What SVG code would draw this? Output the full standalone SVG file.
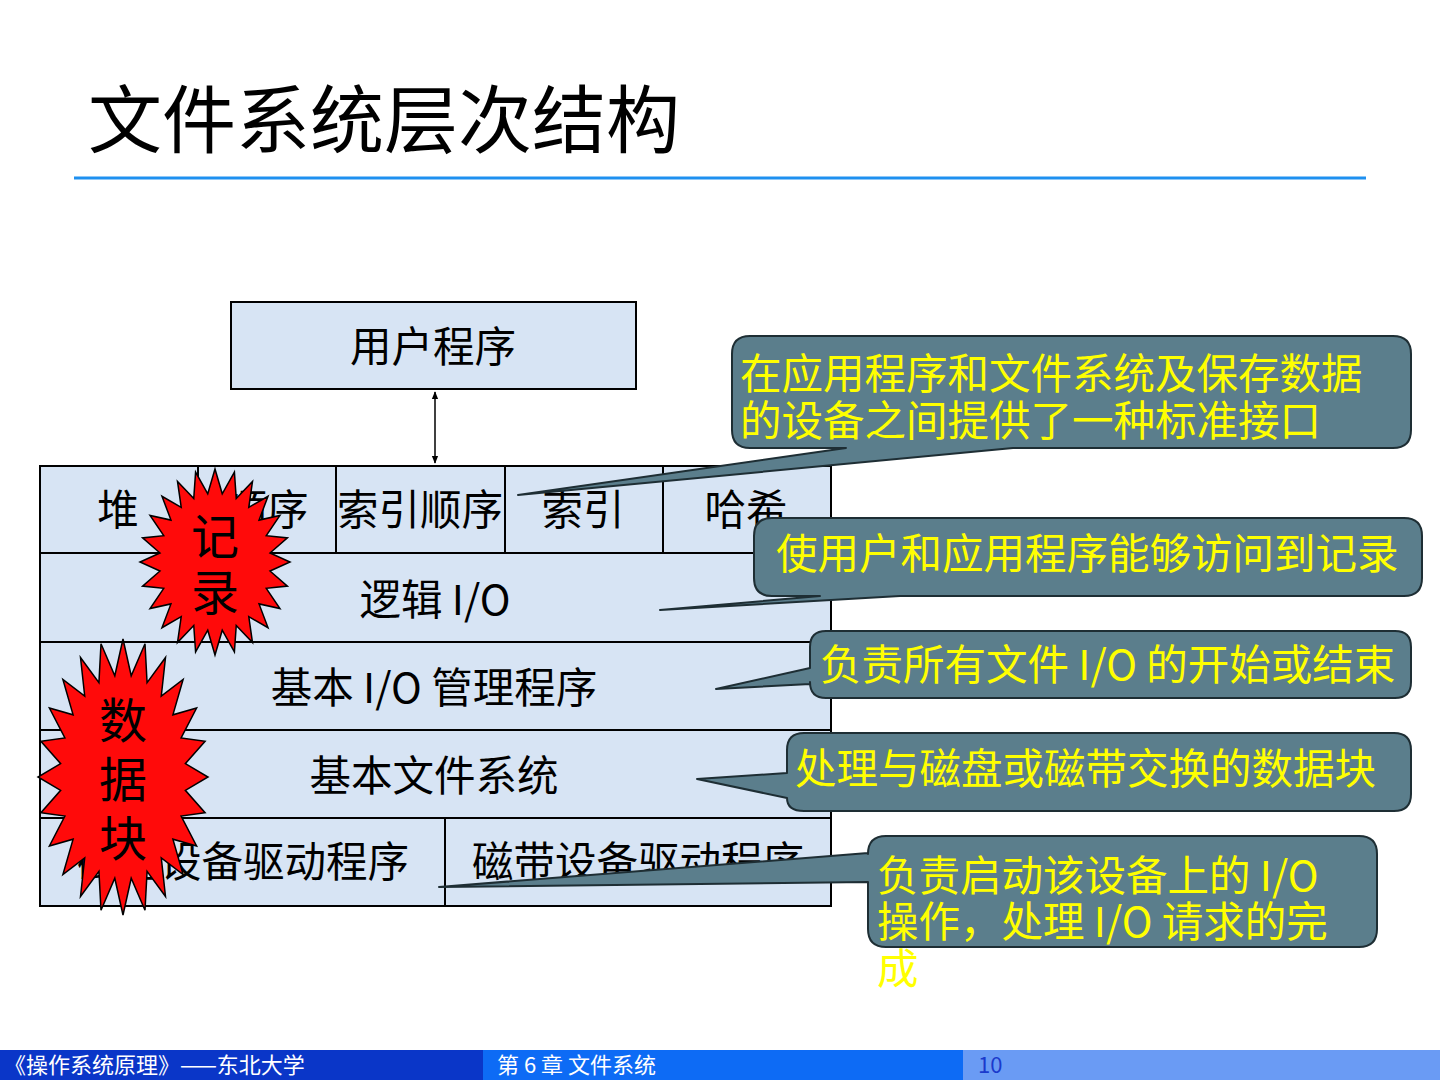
<svg xmlns="http://www.w3.org/2000/svg" width="1440" height="1080" viewBox="0 0 1440 1080">
<style>
.cjk{font-family:"Noto Sans CJK SC","Noto Sans",sans-serif;}
.cell{fill:#D7E4F4;stroke:#000;stroke-width:2;}
.ct{font-size:41.5px;fill:#000;text-anchor:middle;}
.call{fill:#5B7E8C;stroke:#1E2E34;stroke-width:2;stroke-linejoin:round;}
.cal{font-size:41.5px;fill:#FFFF00;}
.star{fill:#FF0A0A;stroke:#000;stroke-width:1.5;}
.st{font-size:48px;fill:#000;text-anchor:middle;}
.ft{font-size:22px;fill:#fff;}
</style>
<defs>
<polygon id="starshape" vector-effect="non-scaling-stroke" points="0,-1 0.0966,-0.7337 0.2588,-0.9659 0.2832,-0.6837 0.5,-0.866 0.4505,-0.5871 0.7071,-0.7071 0.5871,-0.4505 0.866,-0.5 0.6837,-0.2832 0.9659,-0.2588 0.7337,-0.0966 1,0 0.7337,0.0966 0.9659,0.2588 0.6837,0.2832 0.866,0.5 0.5871,0.4505 0.7071,0.7071 0.4505,0.5871 0.5,0.866 0.2832,0.6837 0.2588,0.9659 0.0966,0.7337 0,1 -0.0966,0.7337 -0.2588,0.9659 -0.2832,0.6837 -0.5,0.866 -0.4505,0.5871 -0.7071,0.7071 -0.5871,0.4505 -0.866,0.5 -0.6837,0.2832 -0.9659,0.2588 -0.7337,0.0966 -1,0 -0.7337,-0.0966 -0.9659,-0.2588 -0.6837,-0.2832 -0.866,-0.5 -0.5871,-0.4505 -0.7071,-0.7071 -0.4505,-0.5871 -0.5,-0.866 -0.2832,-0.6837 -0.2588,-0.9659 -0.0966,-0.7337"/>
<marker id="ah" viewBox="0 0 10 10" refX="9" refY="5" markerWidth="8" markerHeight="8" orient="auto-start-reverse" markerUnits="userSpaceOnUse">
<path d="M0,1 L10,5 L0,9 Z" fill="#000"/>
</marker>
</defs>
<rect x="0" y="0" width="1440" height="1080" fill="#fff"/>

<g id="title">
<text class="cjk" x="88" y="147" font-size="74" fill="#000">文件系统层次结构</text>
<rect x="74" y="176.5" width="1292" height="3" fill="#1E90F0"/>
</g>

<g id="user-program">
<rect class="cell" x="231" y="302" width="405" height="87"/>
<text class="cjk ct" x="433" y="362">用户程序</text>
</g>

<g id="connectors">
<line x1="435" y1="392" x2="435" y2="463" stroke="#000" stroke-width="1.5" marker-start="url(#ah)" marker-end="url(#ah)"/>
</g>

<g id="row-files">
<rect class="cell" x="40" y="466" width="158" height="87"/>
<text class="cjk ct" x="118" y="525">堆</text>
<rect class="cell" x="198" y="466" width="138" height="87"/>
<text class="cjk ct" x="267" y="525">顺序</text>
<rect class="cell" x="336" y="466" width="169" height="87"/>
<text class="cjk ct" x="420" y="525">索引顺序</text>
<rect class="cell" x="505" y="466" width="158" height="87"/>
<text class="cjk ct" x="583" y="525">索引</text>
<rect class="cell" x="663" y="466" width="168" height="87"/>
<text class="cjk ct" x="746" y="525">哈希</text>
</g>

<g id="logical-io">
<rect class="cell" x="40" y="553" width="791" height="89"/>
<text class="cjk ct" x="435" y="615">逻辑 I/O</text>
</g>

<g id="basic-io">
<rect class="cell" x="40" y="642" width="791" height="88"/>
<text class="cjk ct" x="434" y="703">基本 I/O 管理程序</text>
</g>

<g id="basic-fs">
<rect class="cell" x="40" y="730" width="791" height="88"/>
<text class="cjk ct" x="434" y="791">基本文件系统</text>
</g>

<g id="drivers">
<rect class="cell" x="40" y="818" width="405" height="88"/>
<text class="cjk ct" x="243" y="877">磁盘设备驱动程序</text>
<rect class="cell" x="445" y="818" width="386" height="88"/>
<text class="cjk ct" x="638" y="877">磁带设备驱动程序</text>
</g>

<g id="star-record">
<use href="#starshape" class="star" transform="translate(215,562) scale(75,93)"/>
<text class="cjk st" x="215" y="554">记</text>
<text class="cjk st" x="215" y="610">录</text>
</g>

<g id="star-block">
<use href="#starshape" class="star" transform="translate(123,777) scale(85,138)"/>
<text class="cjk st" x="123" y="738">数</text>
<text class="cjk st" x="123" y="797">据</text>
<text class="cjk st" x="123" y="856">块</text>
</g>

<g id="callout-interface">
<path class="call" d="M750,336 H1393 Q1411,336 1411,354 V430 Q1411,448 1393,448 H1013 L518,495 L846,448 H750 Q732,448 732,430 V354 Q732,336 750,336 Z"/>
<text class="cjk cal" x="740" y="389">在应用程序和文件系统及保存数据</text>
<text class="cjk cal" x="740" y="436">的设备之间提供了一种标准接口</text>
</g>

<g id="callout-record">
<path class="call" d="M772,518 H1404 Q1422,518 1422,536 V578 Q1422,596 1404,596 H900 L660,610 L820,596 H772 Q754,596 754,578 V536 Q754,518 772,518 Z"/>
<text class="cjk cal" x="776" y="569">使用户和应用程序能够访问到记录</text>
</g>

<g id="callout-io">
<path class="call" d="M826,631 H1395 Q1411,631 1411,647 V682 Q1411,698 1395,698 H826 Q810,698 810,682 V684 L716,689 L810,668 V647 Q810,631 826,631 Z"/>
<text class="cjk cal" x="820" y="680">负责所有文件 I/O 的开始或结束</text>
</g>

<g id="callout-block">
<path class="call" d="M804,733 H1394 Q1411,733 1411,750 V794 Q1411,811 1394,811 H804 Q787,811 787,798 L697,779 L787,773 V750 Q787,733 804,733 Z"/>
<text class="cjk cal" x="795" y="784">处理与磁盘或磁带交换的数据块</text>
</g>

<g id="callout-driver">
<path class="call" d="M886,836 H1359 Q1377,836 1377,854 V929 Q1377,947 1359,947 H886 Q868,947 868,929 V882 L439,887 L868,853 V854 Q868,836 886,836 Z"/>
<text class="cjk cal" x="877" y="891">负责启动该设备上的 I/O</text>
<text class="cjk cal" x="877" y="937">操作，处理 I/O 请求的完</text>
<text class="cjk cal" x="877" y="984">成</text>
</g>

<g id="footer">
<rect x="0" y="1050" width="483" height="30" fill="#0A36C8"/>
<rect x="483" y="1050" width="480" height="30" fill="#0D6BF5"/>
<rect x="963" y="1050" width="477" height="30" fill="#6A9BF4"/>
<text class="cjk ft" x="4" y="1073">《操作系统原理》——东北大学</text>
<text class="cjk ft" x="497" y="1073">第 6 章  文件系统</text>
<text class="cjk" x="978" y="1073" font-size="22" fill="#1A3ACC">10</text>
</g>
</svg>
